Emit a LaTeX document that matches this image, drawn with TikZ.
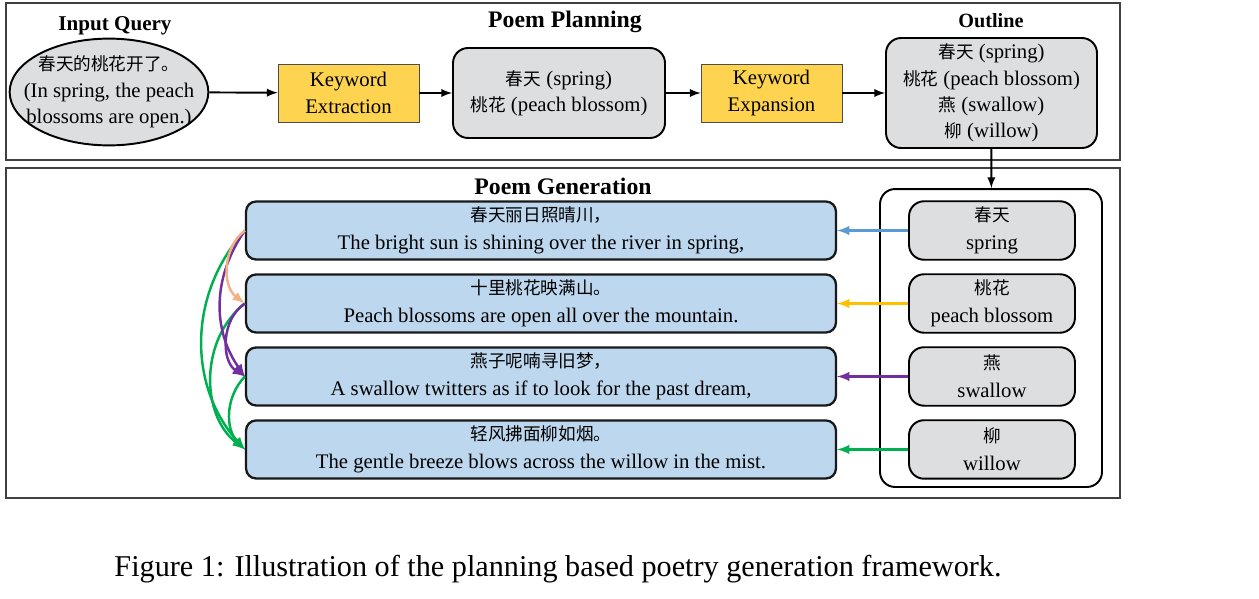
\documentclass[tikz,border=0pt]{standalone}
\usepackage{fontspec}
\setmainfont{Liberation Serif}
\newfontfamily\cjk{Noto Sans CJK SC}[Scale=0.85]
\usetikzlibrary{positioning,shapes.geometric}
\definecolor{boxgrey}{RGB}{221,222,224}
\definecolor{keygold}{RGB}{253,211,80}
\definecolor{poemblue}{RGB}{189,215,238}
\definecolor{linkblue}{RGB}{91,155,213}
\definecolor{linkyellow}{RGB}{255,192,0}
\definecolor{linkpurple}{RGB}{112,48,160}
\definecolor{linkgreen}{RGB}{0,176,80}
\definecolor{linkpeach}{RGB}{244,177,131}
\tikzset{
  panel/.style={draw=black!75, line width=0.8pt, minimum width=22.28cm, -},
  title/.style={font=\fontsize{13.5}{16}\selectfont\bfseries},
  body/.style={font=\fontsize{11.8}{15}\selectfont, align=center, inner sep=0pt},
  keybox/.style={body, rectangle, fill=keygold, draw=black!70, thin, minimum width=2.82cm, minimum height=1.16cm},
  greybox/.style={body, rectangle, rounded corners=0.3cm, fill=boxgrey, draw=black, line width=1.1pt},
  poembox/.style={body, font=\fontsize{11.8}{16}\selectfont, rectangle, rounded corners=0.2cm, fill=poemblue, draw=black!90, line width=1.3pt, minimum width=11.8cm, minimum height=1.16cm},
  wordbox/.style={greybox, font=\fontsize{11.8}{16}\selectfont, minimum width=3.32cm, minimum height=1.17cm},
  flow/.style={line width=1.1pt},
  link/.style={line width=1.4pt}
}
\begin{document}
\begin{tikzpicture}[x=0.02cm, y=-0.02cm, -latex, node distance=1.46cm and 2cm, on grid, semithick]
\useasboundingbox (0,0) rectangle (1259,599);
% panels
\node[panel, minimum height=3.14cm] (planpanel) at (563,81.5) {};
\node[panel, minimum height=6.6cm] (genpanel) at (563,333) {};
\node[title] (plantitle) at (565,22) {Poem Planning};
\node[title] (gentitle) at (563,186) {Poem Generation};
\node[title, font=\fontsize{12}{14}\selectfont\bfseries] (querytitle) at (115,26) {Input Query};
\node[title, font=\fontsize{11.5}{14}\selectfont\bfseries] (outlinetitle) at (991,21) {Outline};
% planning row
\node[body, ellipse, fill=boxgrey, draw=black, line width=1.1pt, inner xsep=-8.5pt, inner ysep=1pt] (query) at (109,92) {{\cjk 春天的桃花开了。}\\(In spring, the peach\\blossoms are open.)};
\node[keybox] (extract) at (348.5,93) {Keyword\\Extraction};
\node[greybox, minimum width=4.24cm, minimum height=1.8cm] (keys) at (559,93) {{\cjk 春天} (spring)\\{\cjk 桃花} (peach blossom)};
\node[keybox] (expand) at (771.5,93) {Keyword\\Expansion};
\node[greybox, minimum width=4.22cm, minimum height=2.2cm] (outline) at (991.5,93) {{\cjk 春天} (spring)\\{\cjk 桃花} (peach blossom)\\{\cjk 燕} (swallow)\\{\cjk 柳} (willow)};
\path[flow] (query) edge (extract);
\path[flow] (extract) edge (keys);
\path[flow] (keys) edge (expand);
\path[flow] (expand) edge (outline);
% generation
\node[draw=black, line width=1.1pt, rounded corners=0.3cm, minimum width=4.44cm, minimum height=5.96cm, -] (kwframe) at (991,338) {};
\path[flow] (outline) edge (kwframe);
\node[wordbox] (kw1) at (992,230.5) {{\cjk 春天}\\spring};
\node[wordbox] (kw2) [below =of kw1] {{\cjk 桃花}\\peach blossom};
\node[wordbox] (kw3) [below =of kw2] {{\cjk 燕}\\swallow};
\node[wordbox] (kw4) [below =of kw3] {{\cjk 柳}\\willow};
\node[poembox] (line1) at (541,230.5) {{\cjk 春天丽日照晴川，}\\The bright sun is shining over the river in spring,};
\node[poembox] (line2) [below =of line1] {{\cjk 十里桃花映满山。}\\Peach blossoms are open all over the mountain.};
\node[poembox] (line3) [below =of line2] {{\cjk 燕子呢喃寻旧梦，}\\A swallow twitters as if to look for the past dream,};
\node[poembox] (line4) [below =of line3] {{\cjk 轻风拂面柳如烟。}\\The gentle breeze blows across the willow in the mist.};
\draw[link, linkblue] (kw1) -- (line1);
\draw[link, linkyellow] (kw2) -- (line2);
\draw[link, linkpurple] (kw3) -- (line3);
\draw[link, linkgreen] (kw4) -- (line4);
% context links
\draw[link, linkgreen] (line1.west) to[bend right=42] (line4.west);
\draw[link, linkgreen] (line2.west) to[bend right=52] (line4.west);
\draw[link, linkpurple] (line1.west) to[bend right=35] (line3.west);
\draw[link, linkpurple] (line2.west) to[bend right=57] (line3.west);
\draw[link, linkpeach] (line1.west) to[bend right=53] (line2.west);
\draw[link, linkgreen] (line3.west) to[bend right=44] (line4.west);
% caption
\node[font=\fontsize{17.2}{20}\selectfont] (caption) at (558,569) {Figure 1: Illustration of the planning based poetry generation framework.};
\end{tikzpicture}
\end{document}
